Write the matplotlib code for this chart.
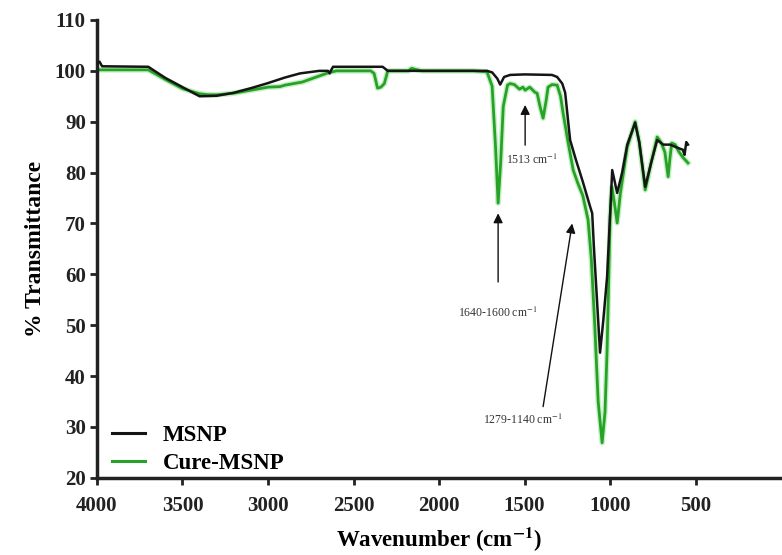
import matplotlib
matplotlib.use("Agg")
import matplotlib.pyplot as plt

plt.rcParams['font.family'] = ['Liberation Serif', 'DejaVu Serif']
plt.rcParams['mathtext.fontset'] = 'stix'

# MSNP (black)
msnp_x = [4000, 3985, 3970, 3700, 3600, 3500, 3400, 3300, 3200, 3100, 3000, 2900, 2813,
          2700, 2650, 2640, 2630, 2620, 2330, 2300, 2000, 1800, 1720, 1690, 1660, 1643,
          1620, 1585, 1500, 1340, 1310, 1280, 1263, 1234, 1200, 1158, 1117, 1105, 1095,
          1059, 1040, 1018, 988, 959, 930, 900, 854, 830, 795, 760, 725, 690, 650, 600,
          575, 565, 555, 545]
msnp_y = [101.5, 101.8, 100.9, 100.8, 98.6, 96.8, 95.0, 95.1, 95.7, 96.6, 97.6, 98.7, 99.5,
          100.0, 100.0, 99.5, 100.2, 100.8, 100.8, 100.0, 100.0, 100.0, 100.0, 99.7, 98.5, 97.3,
          98.8, 99.2, 99.3, 99.2, 98.8, 97.5, 95.7, 86.4, 82.5, 78.0, 73.3, 72.0, 65.4,
          44.6, 51.0, 59.5, 80.5, 76.0, 80.0, 85.5, 89.8, 86.0, 77.2, 82.0, 86.4, 85.5, 85.5, 84.8,
          84.5, 83.5, 86.0, 85.5]

# Cure-MSNP (green)
cure_x = [4000, 3700, 3600, 3500, 3400, 3350, 3300, 3200, 3100, 3000, 2930, 2900, 2800, 2700,
          2650, 2600, 2400, 2380, 2360, 2340, 2320, 2300, 2180, 2160, 2140, 2100, 1800, 1720,
          1690, 1670, 1655, 1640, 1625, 1600, 1585, 1560, 1530, 1510, 1497, 1470, 1440, 1427,
          1410, 1392, 1375, 1363, 1340, 1310, 1290, 1275, 1245, 1216, 1190, 1160, 1129, 1110,
          1090, 1070, 1047, 1030, 1018, 1000, 990, 975, 959, 940, 900, 854, 830, 795, 760, 725,
          700, 680, 661, 650, 640, 620, 600, 575, 545]
cure_y = [100.2, 100.2, 98.3, 96.5, 95.5, 95.3, 95.3, 95.6, 96.2, 96.8, 96.9, 97.2, 97.8, 99.0,
          99.6, 100.0, 100.0, 99.5, 96.6, 96.8, 97.5, 100.0, 100.0, 100.5, 100.3, 100.0, 100.0, 99.8,
          97.0, 85.0, 74.0, 82.0, 93.0, 97.2, 97.5, 97.3, 96.4, 96.8, 96.2, 96.8, 95.8, 95.6,
          93.0, 90.7, 94.0, 96.8, 97.3, 97.2, 95.0, 91.7, 85.8, 80.5, 78.0, 75.5, 70.7, 63.0,
          50.0, 35.0, 26.9, 33.0, 45.0, 71.3, 77.2, 74.0, 70.1, 76.0, 85.0, 90.0, 86.0, 76.6, 82.0, 87.0,
          85.8, 84.0, 79.2, 83.0, 85.8, 85.5, 84.2, 83.0, 81.9]

series_names = ['MSNP', 'Cure-MSNP']
yticks = [20, 30, 40, 50, 60, 70, 80, 90, 100, 110]
xticks = [4000, 3500, 3000, 2500, 2000, 1500, 1000, 500]

fig = plt.figure(figsize=(7.82, 5.55), dpi=100)
ax = fig.add_axes([0.124, 0.139, 0.875, 0.825])

green = '#26a326'
# soft halo for the green trace, as in the blurred original
ax.plot(cure_x, cure_y, color='#8fe08f', lw=4.0, alpha=0.5, zorder=1, solid_joinstyle='round')
ax.plot(cure_x, cure_y, color=green, lw=2.0, zorder=2, solid_joinstyle='round')
ax.plot(msnp_x, msnp_y, color='#151515', lw=1.8, zorder=3, solid_joinstyle='round')

hb, = ax.plot([], [], color='#151515', lw=2.2, label=series_names[0])
hg, = ax.plot([], [], color=green, lw=2.2, label=series_names[1])

ax.set_xlim(4000, 0)
ax.set_ylim(20, 110)
ax.set_xticks(xticks)
ax.set_yticks(yticks)
ax.set_xticklabels([str(t) for t in xticks], fontsize=15, fontweight='bold')
ax.set_yticklabels([str(t) for t in yticks], fontsize=15, fontweight='bold')

for s in ['top', 'right']:
    ax.spines[s].set_visible(False)
for s in ['left', 'bottom']:
    ax.spines[s].set_linewidth(2.5)
    ax.spines[s].set_color('#222222')
ax.tick_params(axis='x', direction='out', length=5, width=2, colors='#222222', pad=8)
ax.tick_params(axis='y', direction='out', length=5, width=2, colors='#222222', pad=3)

ax.set_xlabel('Wavenumber (cm$^{\\mathbf{-1}}$)', fontsize=16.5, fontweight='bold', labelpad=7)
ax.set_ylabel('% Transmittance', fontsize=17, fontweight='bold', labelpad=6)

ann_kw = dict(fontsize=8.5, color='#333333', ha='center', va='center')
arrow = dict(arrowstyle='-|>', color='#111111', lw=1.0, mutation_scale=14, shrinkA=0, shrinkB=0)
ax.annotate('', xy=(1497, 93.3), xytext=(1497, 85.4), arrowprops=arrow)
ax.text(1456, 82.5, '1513 cm$^{-1}$', **ann_kw)
ax.annotate('', xy=(1655, 72.0), xytext=(1655, 58.5), arrowprops=arrow)
ax.text(1660, 52.4, '1640-1600 cm$^{-1}$', **ann_kw)
ax.annotate('', xy=(1222, 70.0), xytext=(1392, 34.0), arrowprops=arrow)
ax.text(1509, 31.4, '1279-1140 cm$^{-1}$', **ann_kw)

leg = ax.legend(handles=[hb, hg], loc='lower left', bbox_to_anchor=(0.022, 0.008),
                frameon=False, prop={'weight': 'bold', 'size': 16.5},
                handlelength=1.45, handletextpad=0.75, labelspacing=0.32,
                borderaxespad=0.0, borderpad=0.0)

fig.savefig('out.png', dpi=100)
